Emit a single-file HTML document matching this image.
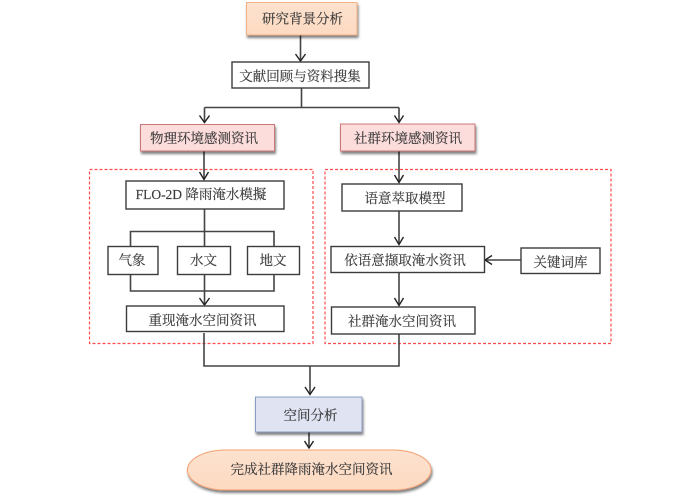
<!DOCTYPE html>
<html><head><meta charset="utf-8"><style>
html,body{margin:0;padding:0;background:#fff}
svg{display:block}
text{font-family:"Liberation Serif","Noto Serif CJK SC",serif;font-size:13.5px;fill:#3a3a3a;stroke:#3a3a3a;stroke-width:.15;text-anchor:middle}
.b{fill:#fff;stroke:#3c3c3c;stroke-width:1.4}
.l{fill:none;stroke:#444;stroke-width:1.6}
.h{fill:none;stroke:#222;stroke-width:1.4}
.d{fill:none;stroke:#ff4d4d;stroke-width:1.2;stroke-dasharray:3 2}
</style></head><body>
<svg width="700" height="497" viewBox="0 0 700 497" xmlns="http://www.w3.org/2000/svg">
<defs>
<filter id="s" x="-10%" y="-20%" width="120%" height="150%"><feDropShadow dx="1" dy="2.5" stdDeviation="1.2" flood-color="#000" flood-opacity=".5"/></filter>
<linearGradient id="o" x1="0" y1="0" x2="0" y2="1"><stop offset="0" stop-color="#fde2cf"/><stop offset="1" stop-color="#fdd9c0"/></linearGradient>
</defs>
<rect class="d" x="89.500" y="169.500" width="223.500" height="174"/>
<rect class="d" x="325" y="169.500" width="286" height="174"/>

<path class="l" d="M300.500 35V60M301.500 88V107.500M204.500 107.500H399M204.500 107.500V122M399 107.500V122M204 151V179M399 151V182M204.500 209V304M130.500 246V231.500H274V246M130.500 274.500V291H274V274.500M399 211V244M399 272.500V305M485 260H521M204 333V366H399V334M310 366V394M309 432V448"/>

<path class="h" d="M295.500 54L300.500 61L305.500 54M199.500 115.500L204.500 122.500L209.500 115.500M394.500 115.500L399 122.500L403.500 115.500M199.500 172L204 179.500L208.500 172M394.500 175L399 182.500L403.500 175M394.500 237L399 244.500L403.500 237M199.500 298L204.500 305L209.500 298M394.500 298L399 305.500L403.500 298M492 255.500L485 260L492 264.500M305 387L310 394.500L315 387M304.500 441L309 448L313.500 441"/>

<rect x="246.500" y="2.500" width="110.500" height="32.500" fill="url(#o)" stroke="#f4b183" stroke-width="1" filter="url(#s)"/>
<text x="302.500" y="23.500">研究背景分析</text>
<rect class="b" x="232" y="62" width="137" height="26"/>
<text x="300" y="81">文献回顾与资料搜集</text>
<rect x="140.500" y="124.500" width="134" height="26.500" fill="#fddcdc" stroke="#c77" stroke-width="1" filter="url(#s)"/>
<text x="204" y="143">物理环境感测资讯</text>
<rect x="340.500" y="124" width="134.500" height="27" fill="#fddcdc" stroke="#c77" stroke-width="1" filter="url(#s)"/>
<text x="408" y="143">社群环境感测资讯</text>

<rect class="b" x="126" y="181" width="158" height="28"/>
<text x="201" y="199">FLO-2D 降雨淹水模擬</text>
<rect class="b" x="108" y="246.500" width="50" height="28"/>
<text x="132" y="265">气象</text>
<rect class="b" x="177.500" y="246.500" width="53" height="28"/>
<text x="203.500" y="265">水文</text>
<rect class="b" x="247.500" y="246.500" width="52" height="28"/>
<text x="273" y="265">地文</text>
<rect class="b" x="126.500" y="306" width="157.500" height="25.500"/>
<text x="202.500" y="325">重现淹水空间资讯</text>

<rect class="b" x="342" y="184" width="120" height="27"/>
<text x="405" y="203">语意萃取模型</text>
<rect class="b" x="331" y="246.500" width="153.500" height="26"/>
<text x="405" y="265">依语意撷取淹水资讯</text>
<rect class="b" x="521" y="248" width="79" height="25.500"/>
<text x="560.500" y="267">关键词库</text>
<rect class="b" x="331.500" y="307" width="143.500" height="27"/>
<text x="402" y="326">社群淹水空间资讯</text>

<rect x="255.500" y="397" width="106.500" height="35" fill="#dfe3f2" stroke="#8b9cc4" stroke-width="1" filter="url(#s)"/>
<text x="310.500" y="420">空间分析</text>
<rect x="187.500" y="450" width="243.500" height="40" rx="38" ry="20" fill="url(#o)" stroke="#f4a070" stroke-width="1" filter="url(#s)"/>
<text x="311.500" y="474">完成社群降雨淹水空间资讯</text>
</svg>
</body></html>
